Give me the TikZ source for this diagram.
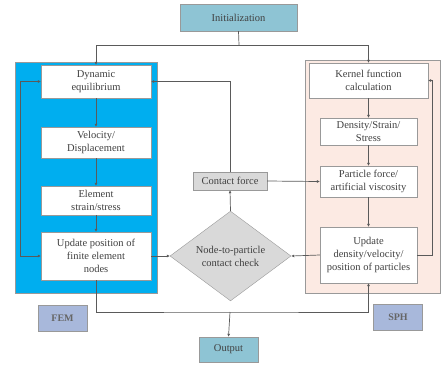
\documentclass[tikz,border=0pt]{standalone}
\usepackage{fontspec}
\setmainfont{Liberation Serif}
\usetikzlibrary{arrows.meta,shapes.geometric}
\definecolor{femblue}{HTML}{00AEEF}
\definecolor{sphpink}{HTML}{FCEAE3}
\definecolor{teal}{HTML}{8EC4D4}
\definecolor{tagblue}{HTML}{A8B8DB}
\definecolor{linegray}{HTML}{5A5A5A}
\tikzset{
  box/.style={draw=gray!80, fill=white, align=center, inner sep=1pt,
    font=\fontsize{10.5}{13}\selectfont, text=black!75},
  tag/.style={draw=gray!80, fill=tagblue, minimum width=49pt, minimum height=26pt,
    font=\fontsize{10}{12}\selectfont\bfseries, text=black!60},
  arr/.style={draw=linegray, line width=0.7pt, -{Latex[length=3pt,width=3pt]}},
  ln/.style={draw=linegray, line width=0.7pt}
}
\begin{document}
\begin{tikzpicture}[x=1pt,y=-1pt]
        \useasboundingbox (0,0) rectangle (441,365);

        % Panels
        \fill[femblue] (15,62) rectangle (157,293);
        \draw[gray!80] (15,62) rectangle (157,293);
        \fill[sphpink] (305,60) rectangle (440,293);
        \draw[gray!80] (305,60) rectangle (440,293);

        % Start and end
        \node[box, fill=teal, minimum width=117pt, minimum height=27pt] (init) at (238.5,17.5) {Initialization};
        \node[box, fill=teal, minimum width=59pt, minimum height=25pt] (out) at (228.5,349.5) {Output};

        % FEM side
        \node[box, minimum width=110pt, minimum height=33pt] (dyn) at (96,81.5) {Dynamic\\equilibrium};
        \node[box, minimum width=110pt, minimum height=31pt] (vel) at (96,142.5) {Velocity/\\Displacement};
        \node[box, minimum width=110pt, minimum height=29pt] (elem) at (96,200.5) {Element\\strain/stress};
        \node[box, minimum width=110pt, minimum height=48pt] (upd) at (96,256) {Update position of\\finite element\\nodes};

        % SPH side
        \node[box, minimum width=119pt, minimum height=35pt] (kern) at (368.5,80.5) {Kernel function\\calculation};
        \node[box, minimum width=97pt, minimum height=27pt] (dens) at (368.5,131.5) {Density/Strain/\\Stress};
        \node[box, minimum width=97pt, minimum height=31pt] (part) at (368.5,181.5) {Particle force/\\artificial viscosity};
        \node[box, minimum width=97pt, minimum height=56pt] (upds) at (368.5,255) {Update\\density/velocity/\\position of particles};

        % Contact
        \node[box, fill=gray!30, minimum width=74pt, minimum height=18pt] (force) at (230,181) {Contact force};
        \node[box, diamond, fill=gray!30, minimum width=121pt, minimum height=84pt, inner sep=0pt] (check) at (230.5,256) {Node-to-particle\\contact check};

        % Labels
        \node[tag] (fem) at (62.5,318) {FEM};
        \node[tag] (sph) at (398,317.5) {SPH};

        % Connectors
        \coordinate (split) at (239,45);
        \coordinate (join) at (230,312);
        \draw[ln] (init.south) -- (split);
        \draw[arr] (split) -| (dyn.north);
        \draw[arr] (split) -| (kern.north);
        \draw[arr] (dyn) -- (vel);
        \draw[arr] (vel) -- (elem);
        \draw[arr] (elem) -- (upd);
        \draw[arr, {Latex[length=3pt,width=3pt]}-{Latex[length=3pt,width=3pt]}] (upd.west) -- ++(-20,0) |- (dyn.west);
        \draw[arr] (upd.east) -- (check.west);
        \draw[arr] (check.north) -- (force.south);
        \draw[arr] (force.north) |- (dyn.east);
        \draw[arr] (force.east) -- (part.west);
        \draw[arr] (kern) -- (dens);
        \draw[arr] (dens) -- (part);
        \draw[arr] (part) -- (upds);
        \draw[arr] (upds.west) -- (check.east);
        \draw[arr] (upds.east) -- ++(15,0) |- (kern.east);
        \draw[arr] (upd.south) |- (join) -| (upds.south);
        \draw[arr] (join) -- (out.north);
\end{tikzpicture}
\end{document}
